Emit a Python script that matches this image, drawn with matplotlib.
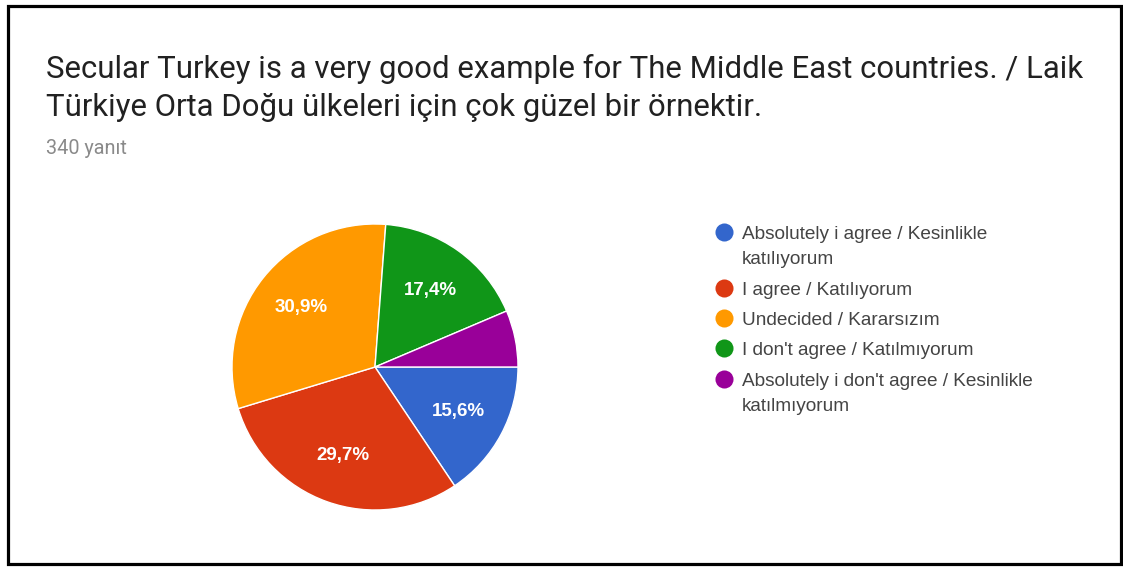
import matplotlib
matplotlib.use("Agg")
import matplotlib.pyplot as plt
from matplotlib.patches import Rectangle

title_lines = ["Secular Turkey is a very good example for The Middle East countries. / Laik",
               "Türkiye Orta Doğu ülkeleri için çok güzel bir örnektir."]
subtitle = "340 yanıt"
categories = ["Absolutely i agree / Kesinlikle\nkatılıyorum",
              "I agree / Katılıyorum",
              "Undecided / Kararsızım",
              "I don't agree / Katılmıyorum",
              "Absolutely i don't agree / Kesinlikle\nkatılmıyorum"]
values = [15.6, 29.7, 30.9, 17.4, 6.4]
colors = ["#3366CC", "#DC3912", "#FF9900", "#109618", "#990099"]

W, H = 1123, 568
fig = plt.figure(figsize=(W / 100, H / 100), dpi=100)
fig.patch.set_facecolor("white")

# overlay axes in pixel coordinates
ov = fig.add_axes([0, 0, 1, 1])
ov.set_xlim(0, W)
ov.set_ylim(H, 0)
ov.axis("off")
ov.add_patch(Rectangle((7.5, 5.5), 1113.5, 558, fill=False, edgecolor="black", linewidth=2.3))

ov.text(46, 78, title_lines[0], fontsize=22.4, family="Roboto", color="#212121", va="baseline")
ov.text(46, 116, title_lines[1], fontsize=22.4, family="Roboto", color="#212121", va="baseline")
ov.text(46, 154, subtitle, fontsize=14.3, family="Roboto", color="#8a8a8a", va="baseline")

# pie
cx, cy, r = 375, 367, 143
ax = fig.add_axes([(cx - r) / W, (H - cy - r) / H, 2 * r / W, 2 * r / H])

def fmt(p):
    return "" if p < 10 else f"{p:.1f}".replace(".", ",") + "%"

wedges, texts, autotexts = ax.pie(values, colors=colors, startangle=0, counterclock=False,
                                  autopct=fmt, pctdistance=0.66,
                                  wedgeprops=dict(edgecolor="white", linewidth=1),
                                  textprops=dict(color="white", fontsize=13.5, fontweight="bold",
                                                 family="Liberation Sans"))
ax.set_xlim(-1, 1)
ax.set_ylim(-1, 1)
ax.set_aspect("equal")
ax.axis("off")

# legend
row_y = [232, 288, 318, 348, 379]
wrap_gap = 25
for i, (lab, col) in enumerate(zip(categories, colors)):
    y = row_y[i]
    ov.plot([724], [y], marker="o", markersize=13, color=col, markeredgewidth=0)
    for j, line in enumerate(lab.split("\n")):
        ov.text(742, y + 7 + j * wrap_gap, line, fontsize=13.7, family="Liberation Sans",
                color="#444444", va="baseline", ha="left")

fig.savefig("out.png", dpi=100, facecolor="white")
